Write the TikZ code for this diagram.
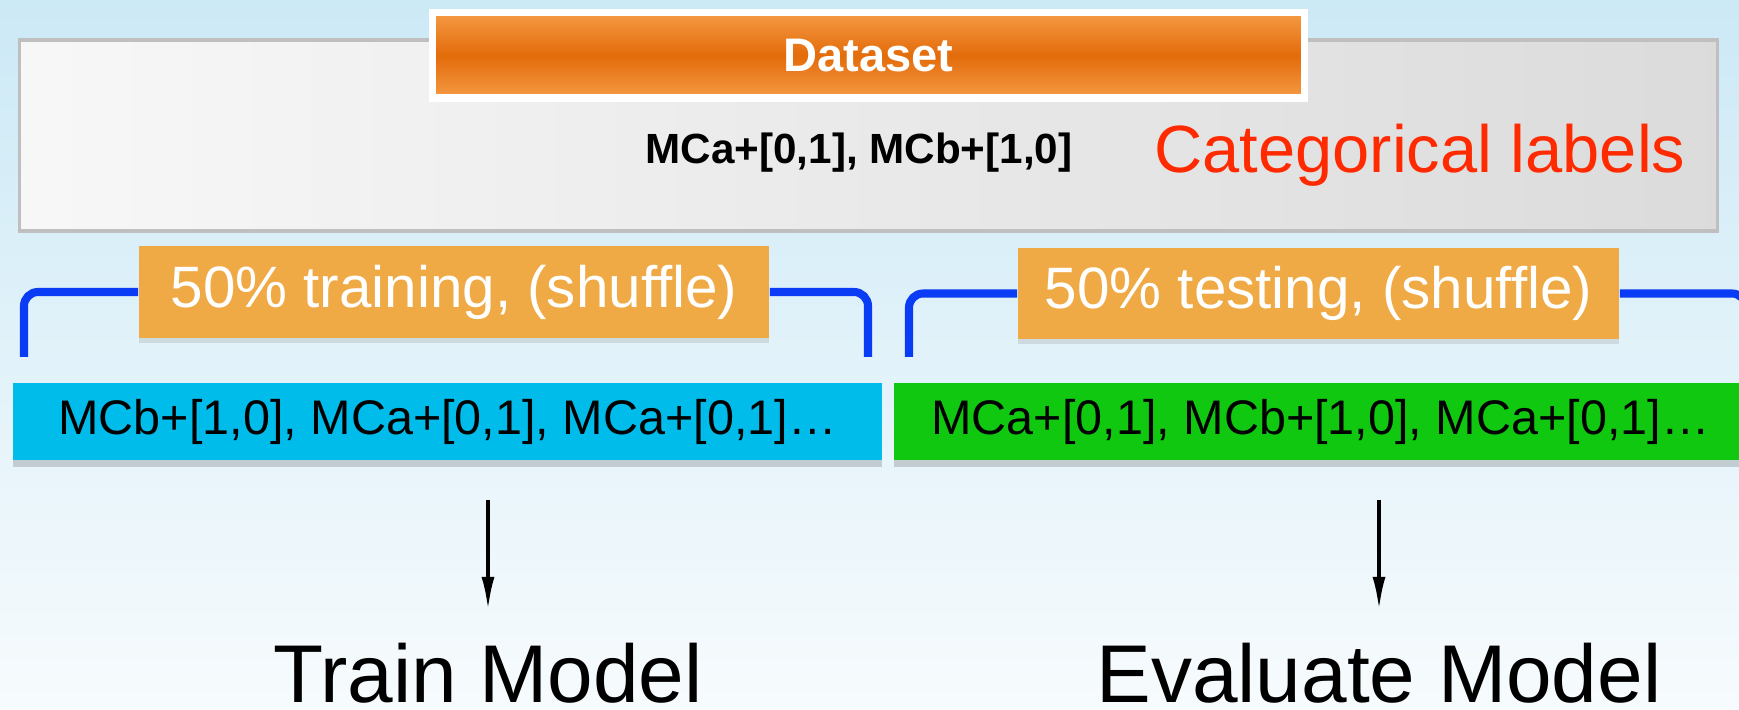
\documentclass[tikz,border=0pt]{standalone}
\usepackage{fontspec}
\setmainfont{Liberation Sans}
\usetikzlibrary{arrows.meta, shadows}

\definecolor{skytop}{HTML}{CCE9F6}
\definecolor{skybot}{HTML}{F7FBFD}
\definecolor{barlight}{HTML}{F59A45}
\definecolor{bardark}{HTML}{E36B0A}
\definecolor{tagorange}{HTML}{F0AA45}
\definecolor{setcyan}{HTML}{00BCEB}
\definecolor{setgreen}{HTML}{10C810}
\definecolor{bracketblue}{HTML}{0A3CF5}
\definecolor{labelred}{HTML}{FF2A00}

\begin{document}
\begin{tikzpicture}[x=0.01cm, y=-0.01cm,
  panel/.style={draw=black!25, line width=1pt, left color=white!97!black, right color=black!14},
  titlebar/.style={draw=white, line width=2pt, top color=barlight, bottom color=barlight, middle color=bardark,
    text=white, font=\bfseries\fontsize{13.4pt}{16pt}\selectfont},
  tag/.style={fill=tagorange, text=white, inner sep=0pt, font=\fontsize{16.6pt}{20pt}\selectfont,
    drop shadow={opacity=0.2, shadow xshift=0pt, shadow yshift=-1.5pt}},
  setbox/.style={inner sep=0pt, font=\fontsize{13.8pt}{16pt}\selectfont,
    drop shadow={opacity=0.35, shadow xshift=0pt, shadow yshift=-2pt}},
  brace/.style={draw=bracketblue, line width=2.3pt, rounded corners=4pt},
  model/.style={inner sep=0pt, font=\fontsize{23.3pt}{28pt}\selectfont},
  flow/.style={-{Latex[length=0.33cm, width=0.13cm]}, line width=1pt, shorten <=0.39cm, shorten >=0.33cm}]
\useasboundingbox (0,0) rectangle (1739,710);
\fill[top color=skytop, bottom color=skybot] (0,0) rectangle (1739,710);

%Dataset:
\node (data) [panel, minimum width=16.97cm, minimum height=1.91cm] at (868.5,135.5) {};
\node (dataset) [titlebar, minimum width=8.71cm, minimum height=0.85cm] at (868.5,55.5) {Dataset};
\node (pairs) [anchor=base, inner sep=0pt, font=\bfseries\fontsize{12pt}{14pt}\selectfont] at (859,164) {MCa+[0,1], MCb+[1,0]};
\node (cat) [anchor=base, inner sep=0pt, text=labelred, font=\fontsize{19pt}{23pt}\selectfont] at (1420,173) {Categorical labels};

%Split:
\node (train) [tag, minimum width=6.3cm, minimum height=0.92cm] at (454,292) {50\% training, (shuffle)};
\node (test) [tag, minimum width=6.01cm, minimum height=0.91cm] at (1318.5,293.5) {50\% testing, (shuffle)};
\coordinate (trL) at (24,357);
\coordinate (trR) at (868,357);
\coordinate (teL) at (909,357);
\coordinate (teR) at (1746,357);
\draw [brace] (train.west) -| (trL);
\draw [brace] (train.east) -| (trR);
\draw [brace] (test.west) -| (teL);
\draw [brace] (test.east) -| (teR);

\node (trainset) [setbox, fill=setcyan, minimum width=8.69cm, minimum height=0.77cm] at (447.5,421.5) {MCb+[1,0], MCa+[0,1], MCa+[0,1]…};
\node (testset) [setbox, fill=setgreen, minimum width=8.53cm, minimum height=0.77cm] at (1320.5,421.5) {MCa+[0,1], MCb+[1,0], MCa+[0,1]…};

%Models:
\node (trmodel) [model, anchor=base] at (488,703) {Train Model};
\node (evmodel) [model, anchor=base] at (1379,703) {Evaluate Model};
\draw [flow] (trainset.south -| trmodel) -- (trmodel.north);
\draw [flow] (testset.south -| evmodel) -- (evmodel.north);
\end{tikzpicture}
\end{document}
